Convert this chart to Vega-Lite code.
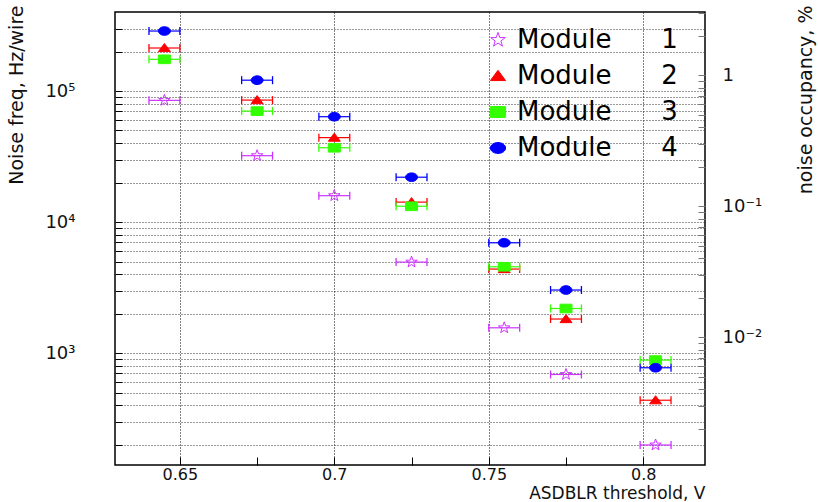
{
  "$schema": "https://vega.github.io/schema/vega-lite/v6.json",
  "width": 590,
  "height": 453,
  "autosize": "none",
  "padding": {"left": 115, "top": 12, "right": 113, "bottom": 37},
  "background": "white",
  "config": {
    "font": "DejaVu Sans",
    "view": {"stroke": "black", "strokeWidth": 1.5},
    "axis": {"labelFont": "DejaVu Sans", "titleFont": "DejaVu Sans", "titleFontWeight": "normal", "labelColor": "#111", "titleColor": "#111", "domain": false}
  },
  "datasets": {
    "pts": [
      {"module": "1", "x": 0.645, "xlo": 0.640, "xhi": 0.650, "freq": 84900},
      {"module": "1", "x": 0.675, "xlo": 0.670, "xhi": 0.680, "freq": 32100},
      {"module": "1", "x": 0.700, "xlo": 0.695, "xhi": 0.705, "freq": 15900},
      {"module": "1", "x": 0.725, "xlo": 0.720, "xhi": 0.730, "freq": 4950},
      {"module": "1", "x": 0.755, "xlo": 0.750, "xhi": 0.760, "freq": 1560},
      {"module": "1", "x": 0.775, "xlo": 0.770, "xhi": 0.780, "freq": 687},
      {"module": "1", "x": 0.804, "xlo": 0.799, "xhi": 0.809, "freq": 199},
      {"module": "2", "x": 0.645, "xlo": 0.640, "xhi": 0.650, "freq": 213000},
      {"module": "2", "x": 0.675, "xlo": 0.670, "xhi": 0.680, "freq": 85300},
      {"module": "2", "x": 0.700, "xlo": 0.695, "xhi": 0.705, "freq": 44100},
      {"module": "2", "x": 0.725, "xlo": 0.720, "xhi": 0.730, "freq": 14200},
      {"module": "2", "x": 0.755, "xlo": 0.750, "xhi": 0.760, "freq": 4380},
      {"module": "2", "x": 0.775, "xlo": 0.770, "xhi": 0.780, "freq": 1820},
      {"module": "2", "x": 0.804, "xlo": 0.799, "xhi": 0.809, "freq": 437},
      {"module": "3", "x": 0.645, "xlo": 0.640, "xhi": 0.650, "freq": 174600},
      {"module": "3", "x": 0.675, "xlo": 0.670, "xhi": 0.680, "freq": 70300},
      {"module": "3", "x": 0.700, "xlo": 0.695, "xhi": 0.705, "freq": 36900},
      {"module": "3", "x": 0.725, "xlo": 0.720, "xhi": 0.730, "freq": 13200},
      {"module": "3", "x": 0.755, "xlo": 0.750, "xhi": 0.760, "freq": 4560},
      {"module": "3", "x": 0.775, "xlo": 0.770, "xhi": 0.780, "freq": 2190},
      {"module": "3", "x": 0.804, "xlo": 0.799, "xhi": 0.809, "freq": 885},
      {"module": "4", "x": 0.645, "xlo": 0.640, "xhi": 0.650, "freq": 287000},
      {"module": "4", "x": 0.675, "xlo": 0.670, "xhi": 0.680, "freq": 121000},
      {"module": "4", "x": 0.700, "xlo": 0.695, "xhi": 0.705, "freq": 63700},
      {"module": "4", "x": 0.725, "xlo": 0.720, "xhi": 0.730, "freq": 22000},
      {"module": "4", "x": 0.755, "xlo": 0.750, "xhi": 0.760, "freq": 6950},
      {"module": "4", "x": 0.775, "xlo": 0.770, "xhi": 0.780, "freq": 3030},
      {"module": "4", "x": 0.804, "xlo": 0.799, "xhi": 0.809, "freq": 773}
    ],
    "occ": [{"occ": 0.01}, {"occ": 0.1}, {"occ": 1}]
  },
  "layer": [
    {
      "data": {"name": "pts"},
      "layer": [
        {
          "mark": {"type": "rule", "strokeWidth": 1.2},
          "encoding": {
            "x": {
              "field": "xlo", "type": "quantitative",
              "scale": {"domain": [0.629, 0.82], "zero": false, "nice": false},
              "axis": {
                "title": "ASDBLR threshold, V",
                "values": [0.65, 0.675, 0.7, 0.725, 0.75, 0.775, 0.8],
                "format": ".3~f",
                "labelExpr": "(datum.value == 0.675 || datum.value == 0.725 || datum.value == 0.775) ? '' : datum.label",
                "grid": true,
                "gridDash": [1, 2],
                "gridColor": "black",
                "gridWidth": 1,
                "gridOpacity": {"condition": {"test": "datum.value == 0.675 || datum.value == 0.725 || datum.value == 0.775", "value": 0}, "value": 1},
                "tickSize": -8,
                "tickColor": "black",
                "labelFontSize": 16,
                "labelPadding": 9,
                "titleFontSize": 17,
                "titleAnchor": "end",
                "titleBaseline": "alphabetic",
                "titleY": 33
              }
            },
            "x2": {"field": "xhi"},
            "y": {
              "field": "freq", "type": "quantitative",
              "scale": {"type": "log", "domain": [140, 401000], "nice": false},
              "axis": {
                "orient": "left",
                "title": "Noise freq, Hz/wire",
                "values": [200, 300, 400, 500, 600, 700, 800, 900, 1000, 2000, 3000, 4000, 5000, 6000, 7000, 8000, 9000, 10000, 20000, 30000, 40000, 50000, 60000, 70000, 80000, 90000, 100000, 200000, 300000],
                "labelExpr": "datum.value == 1000 ? '10³' : datum.value == 10000 ? '10⁴' : datum.value == 100000 ? '10⁵' : ''",
                "grid": true,
                "gridDash": [1, 2],
                "gridColor": "#333",
                "gridWidth": 1,
                "tickSize": -7,
                "tickColor": "black",
                "labelFontSize": 18,
                "labelPadding": 47,
                "titleFontSize": 19,
                "titleX": -99,
                "titleY": -7,
                "titleAngle": -90,
                "titleAlign": "right",
                "titleBaseline": "middle"
              }
            },
            "color": {"field": "module", "type": "nominal", "scale": {"domain": ["1", "2", "3", "4", "5"], "range": ["#cc33ff", "#ff0000", "#33ff00", "#0000ff", "#000000"]}, "legend": null}
          }
        },
        {
          "mark": {"type": "point", "shape": "M0,-1L0,1", "size": 64, "strokeWidth": 1.3, "filled": false, "opacity": 1},
          "encoding": {
            "x": {"field": "xlo", "type": "quantitative", "title": "ASDBLR threshold, V"},
            "y": {"field": "freq", "type": "quantitative", "title": "Noise freq, Hz/wire"},
            "color": {"field": "module", "type": "nominal", "legend": null}
          }
        },
        {
          "mark": {"type": "point", "shape": "M0,-1L0,1", "size": 64, "strokeWidth": 1.3, "filled": false, "opacity": 1},
          "encoding": {
            "x": {"field": "xhi", "type": "quantitative", "title": "ASDBLR threshold, V"},
            "y": {"field": "freq", "type": "quantitative", "title": "Noise freq, Hz/wire"},
            "color": {"field": "module", "type": "nominal", "legend": null}
          }
        },
        {
          "mark": {"type": "point", "size": 144, "strokeWidth": 1, "opacity": 1},
          "encoding": {
            "x": {"field": "x", "type": "quantitative", "title": "ASDBLR threshold, V"},
            "y": {"field": "freq", "type": "quantitative", "title": "Noise freq, Hz/wire"},
            "fill": {
              "field": "module", "type": "nominal",
              "scale": {"domain": ["1", "2", "3", "4"], "range": ["transparent", "#ff0000", "#33ff00", "#0000ff"]},
              "legend": {
                "title": null,
                "orient": "none",
                "legendX": 370,
                "legendY": 15,
                "labelFont": "DejaVu Sans",
                "labelFontSize": 26,
                "labelColor": "black",
                "labelLimit": 400,
                "symbolSize": 230,
                "symbolStrokeWidth": 1,
                "rowPadding": 10,
                "labelOffset": 6,
                "padding": 0,
                "labelExpr": "'Module\u00a0\u00a0\u00a0\u00a0\u00a0\u00a0' + datum.label"
              }
            },
            "stroke": {
              "field": "module", "type": "nominal",
              "scale": {"domain": ["1", "2", "3", "4"], "range": ["#cc33ff", "#ff0000", "#33ff00", "#0000ff"]}
            },
            "shape": {
              "field": "module", "type": "nominal",
              "scale": {"domain": ["1", "2", "3", "4"], "range": [
                "M0,-1L0.235,-0.324L0.951,-0.309L0.38,0.124L0.588,0.809L0,0.4L-0.588,0.809L-0.38,0.124L-0.951,-0.309L-0.235,-0.324Z",
                "M-1,0.6L1,0.6L0,-0.75Z",
                "M-1,-0.72L1,-0.72L1,0.72L-1,0.72Z",
                "M-1,0A1,0.72 0 1,0 1,0A1,0.72 0 1,0 -1,0Z"
              ]}
            }
          }
        }
      ]
    },
    {
      "data": {"name": "occ"},
      "mark": {"type": "point", "opacity": 0},
      "encoding": {
        "y": {
          "field": "occ", "type": "quantitative",
          "scale": {"type": "log", "domain": [0.00106, 3.04], "nice": false},
          "axis": {
            "orient": "right",
            "title": "noise occupancy, %",
            "values": [0.002, 0.003, 0.004, 0.005, 0.006, 0.007, 0.008, 0.009, 0.01, 0.02, 0.03, 0.04, 0.05, 0.06, 0.07, 0.08, 0.09, 0.1, 0.2, 0.3, 0.4, 0.5, 0.6, 0.7, 0.8, 0.9, 1, 2, 3],
            "labelExpr": "datum.value == 0.01 ? '10⁻²' : datum.value == 0.1 ? '10⁻¹' : datum.value == 1 ? '1' : ''",
            "grid": false,
            "tickSize": -7,
            "tickColor": "#777",
            "labelFontSize": 18,
            "labelPadding": 24,
            "titleFontSize": 19,
            "titleX": 100,
            "titleY": -7,
            "titleAngle": -90,
            "titleAlign": "right",
            "titleBaseline": "middle"
          }
        }
      }
    }
  ],
  "resolve": {"scale": {"y": "independent"}, "axis": {"y": "independent"}}
}
